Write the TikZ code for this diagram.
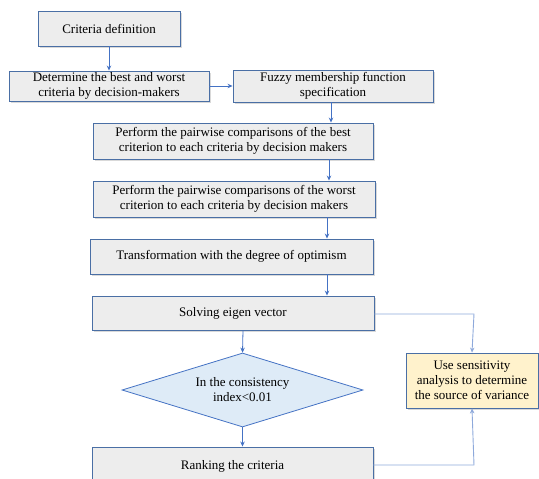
\documentclass[tikz,border=0pt]{standalone}
\usepackage{fontspec}
\setmainfont{Liberation Serif}
\usetikzlibrary{shapes.geometric,shadows,arrows.meta}
\definecolor{bord}{HTML}{4A6FA5}
\definecolor{boxfill}{HTML}{EDEDED}
\definecolor{arrc}{HTML}{4472C4}
\definecolor{lightarr}{HTML}{8EA9DB}
\definecolor{diafill}{HTML}{DEEBF7}
\definecolor{yelfill}{HTML}{FFF2CC}
\tikzset{
  txt/.style={font=\fontsize{13}{15}\selectfont},
  stepbox/.style={draw=bord, line width=0.9pt, fill=boxfill, align=center, inner sep=1pt, txt,
    drop shadow={shadow xshift=1.5pt, shadow yshift=-1.5pt, opacity=0.25, fill=black!60}},
  arr/.style={draw=arrc, line width=0.8pt, -{Stealth[length=5pt,width=4.5pt]}},
  sidearr/.style={draw=lightarr, line width=0.9pt, -{Stealth[length=5pt,width=4.5pt]}, color=lightarr},
}
\begin{document}
\begin{tikzpicture}[x=1pt,y=-1pt]
\useasboundingbox (0,0) rectangle (539,479);
\clip (0,0) rectangle (539,479);
\node[stepbox, minimum width=142pt, minimum height=35pt] (b1) at (109,28.5) {Criteria definition};
\node[stepbox, minimum width=200pt, minimum height=30pt] (b2) at (109,86) {Determine the best and worst\\criteria by decision-makers};
\node[stepbox, minimum width=200pt, minimum height=32pt] (b3) at (333,86) {Fuzzy membership function\\specification};
\node[stepbox, minimum width=280pt, minimum height=36pt] (b4) at (233,141) {Perform the pairwise comparisons of the best\\criterion to each criteria by decision makers};
\node[stepbox, minimum width=282pt, minimum height=36pt] (b5) at (234,199) {Perform the pairwise comparisons of the worst\\criterion to each criteria by decision makers};
\node[stepbox, minimum width=283pt, minimum height=35pt] (b6) at (231.5,256.5) {Transformation with the degree of optimism};
\node[stepbox, minimum width=282pt, minimum height=34pt] (b7) at (233,313) {Solving eigen vector};
\node[diamond, draw=arrc, line width=0.8pt, fill=diafill, align=center, inner sep=0pt,
      minimum width=241pt, minimum height=74pt, aspect=3.26, txt] (d) at (242.5,390) {In the consistency\\index<0.01};
\node[stepbox, minimum width=281pt, minimum height=38pt] (b8) at (232.5,466) {Ranking the criteria};
\node[draw=bord, line width=0.9pt, fill=yelfill, align=center, inner sep=1pt,
      minimum width=132pt, minimum height=55pt, txt,
      drop shadow={shadow xshift=1.5pt, shadow yshift=-1.5pt, opacity=0.25, fill=black!60}] (s) at (472,380.5) {Use sensitivity\\analysis to determine\\the source of variance};
\coordinate (c1) at (474,314);
\coordinate (c2) at (474,465);
\draw[arr] (b1.south) -- (b2.north);
\draw[arr] (b2.east) -- (b3.west);
\draw[arr] ([xshift=-2pt]b3.south) -- ([xshift=-2pt]b3.south |- b4.north);
\draw[arr] ([xshift=96pt]b4.south) -- ([xshift=96pt]b4.south |- b5.north);
\draw[arr] ([xshift=93pt]b5.south) -- ([xshift=93pt]b5.south |- b6.north);
\draw[arr] ([xshift=95.5pt]b6.south) -- ([xshift=95.5pt]b6.south |- b7.north);
\draw[arr] ([xshift=10pt]b7.south) -- (d.north);
\draw[arr] (d.south) -- (d.south |- b8.north);
\draw[sidearr] (b7.east |- c1) -- (c1) -- (s.north);
\draw[sidearr] (b8.east |- c2) -- (c2) -- (s.south);
\end{tikzpicture}
\end{document}
